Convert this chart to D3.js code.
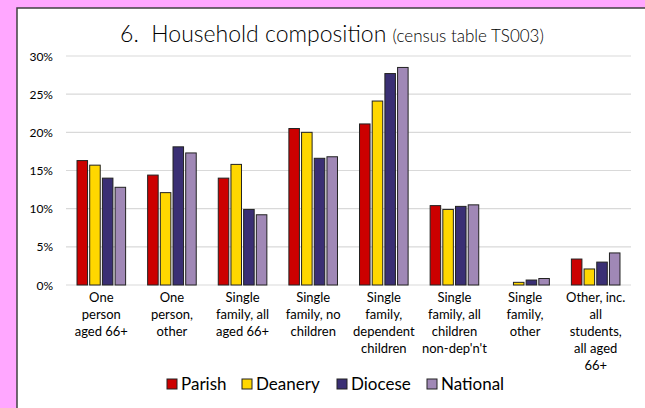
<!DOCTYPE html>
<html><head><meta charset="utf-8">
<script src="https://cdn.jsdelivr.net/npm/d3@7"></script>
<style>
html,body{margin:0;padding:0;background:#FFA7FF;}
svg{display:block;}
text{font-family:Lato,"Open Sans",sans-serif;fill:#000;}
</style></head>
<body>
<script>
const categories = [
  ["One","person","aged 66+"],
  ["One","person,","other"],
  ["Single","family, all","aged 66+"],
  ["Single","family, no","children"],
  ["Single","family,","dependent","children"],
  ["Single","family, all","children","non-dep'n't"],
  ["Single","family,","other"],
  ["Other, inc.","all","students,","all aged","66+"]
];
const seriesNames = ["Parish","Deanery","Diocese","National"];
const parish   = [16.3, 14.4, 14.0, 20.5, 21.1, 10.4, 0.0, 3.4];
const deanery  = [15.7, 12.1, 15.8, 20.0, 24.1,  9.9, 0.35, 2.1];
const diocese  = [14.0, 18.1,  9.9, 16.6, 27.7, 10.3, 0.65, 3.0];
const national = [12.8, 17.3,  9.2, 16.8, 28.5, 10.5, 0.85, 4.2];
const yTicks = [0,5,10,15,20,25,30];
const colors = ["#CC0000","#FFD700","#3A2F74","#A088B6"];

const W = 645, H = 408;
const svg = d3.select("body").append("svg").attr("width",W).attr("height",H);

svg.append("rect").attr("x",17).attr("y",8).attr("width",W).attr("height",H)
  .attr("fill","#fff").attr("stroke","#404040").attr("stroke-width",1.5);

const plotL = 66, plotR = 631, plotT = 56, plotB = 285;
const x0 = d3.scaleBand().domain(d3.range(categories.length)).range([plotL, plotR]).padding(0);
const groupW = 48.6;
const x1 = d3.scaleBand().domain(seriesNames).range([0, groupW]).paddingInner(0.17).paddingOuter(0);
const y = d3.scaleLinear().domain([0,30]).range([plotB, plotT]);

// gridlines
svg.append("g").selectAll("line").data(yTicks).join("line")
  .attr("x1",plotL).attr("x2",plotR)
  .attr("y1",d=>y(d)).attr("y2",d=>y(d))
  .attr("stroke","#d9d9d9").attr("stroke-width",1.2);

// y tick labels
svg.append("g").selectAll("text").data(yTicks).join("text")
  .attr("x",53).attr("y",d=>y(d)+4.5)
  .attr("text-anchor","end").attr("font-size",12)
  .text(d=>d+"%");

const allSeries = [parish, deanery, diocese, national];
const bars = [];
allSeries.forEach((vals,si)=>vals.forEach((v,ci)=>bars.push({si,ci,v})));
svg.append("g").selectAll("rect").data(bars.filter(b=>b.v>0)).join("rect")
  .attr("x",b=>x0(b.ci)+x0.bandwidth()/2-groupW/2+x1(seriesNames[b.si]))
  .attr("width",x1.bandwidth())
  .attr("y",b=>y(b.v))
  .attr("height",b=>y(0)-y(b.v))
  .attr("fill",b=>colors[b.si])
  .attr("stroke","#222").attr("stroke-width",1);

// category labels
const cg = svg.append("g");
categories.forEach((lines,ci)=>{
  const t = cg.append("text").attr("text-anchor","middle").attr("font-size",13)
    .attr("x",x0(ci)+x0.bandwidth()/2).attr("y",302);
  lines.forEach((ln,i)=>t.append("tspan").attr("x",x0(ci)+x0.bandwidth()/2)
    .attr("dy",i===0?0:17).text(ln));
});

// title
const title = svg.append("text").attr("x",332).attr("y",42).attr("text-anchor","middle").attr("font-weight",300);
title.append("tspan").attr("font-size",23).text("6.\u00a0\u00a0Household composition ");
title.append("tspan").attr("font-size",17).text("(census table TS003)");

// legend
const legX = [167, 242, 337, 427];
const lg = svg.append("g");
seriesNames.forEach((n,i)=>{
  lg.append("rect").attr("x",legX[i]).attr("y",379).attr("width",10).attr("height",10)
    .attr("fill",colors[i]).attr("stroke","#222").attr("stroke-width",1);
  lg.append("text").attr("x",legX[i]+14).attr("y",390).attr("font-size",17).text(n);
});
</script>
</body></html>
